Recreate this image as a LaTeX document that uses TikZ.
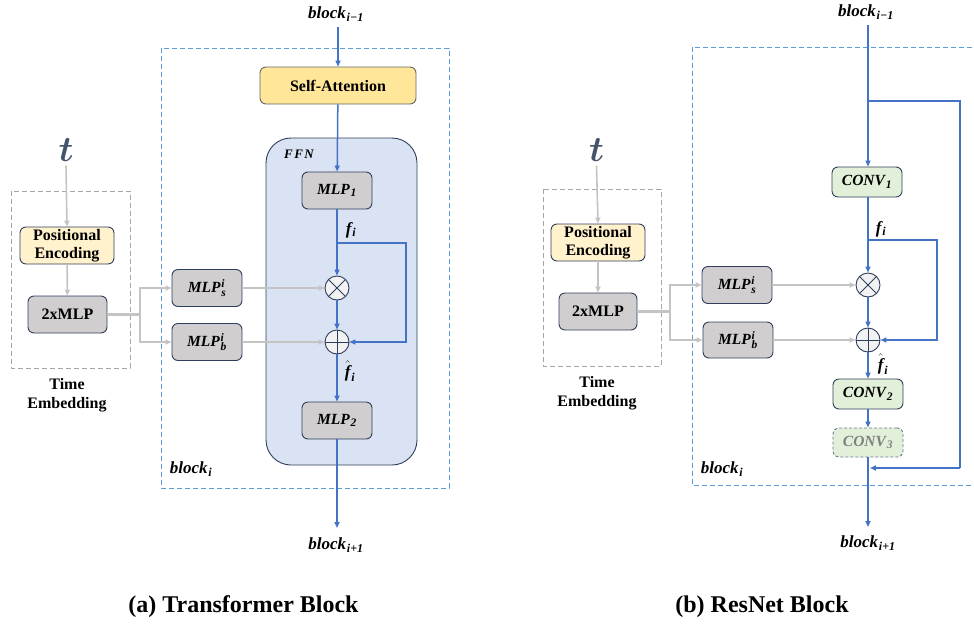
\RequirePackage{fix-cm}
\documentclass[tikz,border=0pt]{standalone}
\usepackage{fontspec}
\setmainfont{Liberation Serif}
\usetikzlibrary{arrows.meta}
\definecolor{lineblue}{HTML}{4472C4}
\definecolor{dashblue}{HTML}{5B9BD5}
\definecolor{arrowgray}{HTML}{C4C4C4}
\definecolor{dashgray}{HTML}{A6A6A6}
\definecolor{boxborder}{HTML}{2F3E5C}
\definecolor{mlpgray}{HTML}{D0CECE}
\definecolor{pefill}{HTML}{FFF2CC}
\definecolor{safill}{HTML}{FFE699}
\definecolor{ffnfill}{HTML}{DAE3F3}
\definecolor{convfill}{HTML}{E2F0D9}
\definecolor{circfill}{HTML}{F2F2F2}
\definecolor{tcol}{HTML}{44546A}
% bold-italic labels with text-size sub/superscripts
\newcommand{\subsz}{11.5}
\newcommand{\bi}[1]{\mbox{\bfseries\itshape #1}}
\newcommand{\sm}[1]{\mbox{\fontsize{\subsz}{\subsz}\selectfont\bfseries\itshape #1}}
\newcommand{\labsub}[2]{\mbox{\bi{#1}$_{\kern0.8pt\sm{#2}}$}}
\newcommand{\labss}[3]{\mbox{\bi{#1}$_{\kern0.8pt\sm{#2}}^{\kern0.8pt\sm{#3}}$}}
\tikzset{
  bl/.style={draw=lineblue, line width=1.5pt},
  blarrow/.style={bl, -{Triangle[length=6pt,width=5pt]}},
  grarrow/.style={draw=arrowgray, line width=1.6pt, -{Triangle[length=6pt,width=5pt]}},
  grthick/.style={draw=arrowgray, line width=3.2pt},
  nbox/.style={rectangle, rounded corners=6pt, draw=boxborder, line width=0.9pt, inner sep=0pt, minimum width=70pt, minimum height=37pt},
  mlpbox/.style={nbox, fill=mlpgray, font=\fontsize{15.5}{18}\selectfont\def\subsz{11.5}},
  txtbox/.style={nbox, fill=mlpgray, font=\fontsize{16}{19}\selectfont\bfseries},
  pebox/.style={nbox, fill=pefill, minimum width=94pt, align=center, font=\fontsize{16}{18}\selectfont\bfseries},
  sabox/.style={nbox, fill=safill, draw=gray!80!black, minimum width=156pt, font=\fontsize{16}{19}\selectfont\bfseries},
  convbox/.style={nbox, fill=convfill, minimum height=30pt, font=\fontsize{15.5}{18}\selectfont\def\subsz{11.5}},
  mathlab/.style={font=\fontsize{17}{20}\selectfont\def\subsz{12}, inner sep=0pt},
  txtlab/.style={font=\fontsize{16}{19}\selectfont\bfseries, align=center, inner sep=0pt},
  tlab/.style={font=\fontsize{36}{40}\selectfont, text=tcol, inner sep=0pt},
  bluedash/.style={draw=dashblue, line width=1pt, dash pattern=on 5pt off 3pt},
  graydash/.style={draw=dashgray, line width=1pt, dash pattern=on 5pt off 3pt},
  otim/.style={circle, draw=boxborder, line width=0.9pt, fill=circfill, minimum size=24pt, inner sep=0pt,
    path picture={\draw[boxborder, line width=0.9pt] (path picture bounding box.north west) -- (path picture bounding box.south east) (path picture bounding box.north east) -- (path picture bounding box.south west);}},
  oplu/.style={circle, draw=boxborder, line width=0.9pt, fill=circfill, minimum size=24pt, inner sep=0pt,
    path picture={\draw[boxborder, line width=0.9pt] (path picture bounding box.north) -- (path picture bounding box.south) (path picture bounding box.west) -- (path picture bounding box.east);}},
  caption/.style={font=\fontsize{24}{28}\selectfont\bfseries, inner sep=0pt},
}
\begin{document}
\begin{tikzpicture}[x=1pt, y=-1pt]
\useasboundingbox (0,0) rectangle (974,624);

% ================= (a) Transformer =================
\draw[graydash] (11,191) rectangle (130,368);
\node[tlab] (tL) at (66,150) {\mbox{\boldmath$t$}};
\node[pebox] (peL) at (67,245.5) {Positional\\Encoding};
\node[txtbox, minimum width=79pt] (mlp2L) at (67.5,314.5) {2xMLP};
\node[txtlab] (teL) at (67,395) {Time\\Embedding};
\node[mlpbox] (msL) at (207,288) {\labss{MLP}{s}{i}};
\node[mlpbox] (mbL) at (207,342) {\labss{MLP}{b}{i}};
\coordinate (splitL) at (140,314.5);

\draw[bluedash] (161,48) rectangle (449,488);
\node[mathlab] (bim1L) at (336,14) {\labsub{block}{i−1}};
\node[sabox] (saL) at (338,85.5) {Self-Attention};
\draw[draw=boxborder, line width=0.9pt, fill=ffnfill, rounded corners=25pt] (266,138) rectangle (417,465);
\node[mathlab, font=\fontsize{13}{15}\selectfont] (ffnL) at (299,154) {\bi{F\kern1.5pt F\kern1.5pt N}};
\node[mlpbox] (mlp1L) at (337,190.5) {\labsub{MLP}{1}};
\node[mathlab] (fiL) at (351,230) {\labsub{f}{i}};
\node[otim] (otL) at (337,288) {};
\node[oplu] (opL) at (337,342) {};
\node[mathlab] (fhL) at (350,371) {\mbox{$\hat{\bi{f}}_{\kern0.8pt\sm{i}}$}};
\node[mlpbox] (mlp2bL) at (337,420.5) {\labsub{MLP}{2}};
\coordinate (endL) at (337,528);
\node[mathlab] (bip1L) at (336,545) {\labsub{block}{i+1}};
\node[mathlab] (biL) at (191,469) {\labsub{block}{i}};
\coordinate (fbL) at (337,243);
\coordinate (fbcL) at (406,243);

\draw[grarrow] (tL.south) ++(0,4) -- (peL.north);
\draw[grarrow] (peL) -- (mlp2L);
\draw[grthick] (mlp2L.east) -- (splitL);
\draw[grarrow] (splitL) |- (msL.west);
\draw[grarrow] (splitL) |- (mbL.west);
\draw[grarrow] (msL) -- (otL);
\draw[grarrow] (mbL) -- (opL);
\draw[blarrow] (bim1L.south -| saL) ++(0,6) -- (saL.north);
\draw[blarrow] (saL) -- (mlp1L);
\draw[blarrow] (mlp1L) -- (otL);
\draw[blarrow] (otL) -- (opL);
\draw[blarrow] (fbL) -- (fbcL) |- (opL.east);
\draw[blarrow] (opL) -- (mlp2bL);
\draw[blarrow] (mlp2bL) -- (endL);

% ================= (b) ResNet =================
\draw[graydash] (543,189) rectangle (661,366);
\node[tlab] (tR) at (596.5,150) {\mbox{\boldmath$t$}};
\node[pebox] (peR) at (598,242.5) {Positional\\Encoding};
\node[txtbox, minimum width=78pt] (mlp2R) at (598,311.5) {2xMLP};
\node[txtlab] (teR) at (597,393) {Time\\Embedding};
\node[mlpbox] (msR) at (737,285) {\labss{MLP}{s}{i}};
\node[mlpbox, minimum height=36pt] (mbR) at (738,340) {\labss{MLP}{b}{i}};
\coordinate (splitR) at (670,311.5);

\begin{scope}
\clip (0,0) rectangle (974,624);
\draw[bluedash] (692,47) rectangle (990,485);
\end{scope}
\node[mathlab] (bim1R) at (866,12) {\labsub{block}{i−1}};
\coordinate (brR) at (868,101);
\coordinate (brcR) at (960,101);
\coordinate (retR) at (870,468);
\node[convbox] (conv1R) at (867,182) {\labsub{CONV}{1}};
\node[mathlab] (fiR) at (881,229) {\labsub{f}{i}};
\coordinate (fbR) at (868,240);
\coordinate (fbcR) at (937,240);
\node[otim] (otR) at (868,285) {};
\node[oplu] (opR) at (868,340) {};
\node[mathlab] (fhR) at (883,364) {\mbox{$\hat{\bi{f}}_{\kern0.8pt\sm{i}}$}};
\node[convbox] (conv2R) at (868,394) {\labsub{CONV}{2}};
\node[convbox, draw=boxborder!70, dash pattern=on 3pt off 2pt, minimum height=29pt, text=gray] (conv3R) at (868,442.5) {\labsub{CONV}{3}};
\coordinate (endR) at (868,527);
\node[mathlab] (bip1R) at (868,543) {\labsub{block}{i+1}};
\node[mathlab] (biR) at (722,469) {\labsub{block}{i}};

\draw[grarrow] (tR.south) ++(0,4) -- (peR.north);
\draw[grarrow] (peR) -- (mlp2R);
\draw[grthick] (mlp2R.east) -- (splitR);
\draw[grarrow] (splitR) |- (msR.west);
\draw[grarrow] (splitR) |- (mbR.west);
\draw[grarrow] (msR) -- (otR);
\draw[grarrow] (mbR) -- (opR);
\draw[blarrow] (bim1R.south -| brR) ++(0,6) -- (conv1R.north -| brR);
\draw[bl] (brR) -- (brcR) -- (brcR |- retR);
\draw[blarrow] (brcR |- retR) -- (retR);
\draw[blarrow] (conv1R.south -| otR) -- (otR);
\draw[blarrow] (otR) -- (opR);
\draw[blarrow] (fbR) -- (fbcR) |- (opR.east);
\draw[blarrow] (opR) -- (conv2R);
\draw[blarrow] (conv2R) -- (conv3R);
\draw[blarrow] (conv3R) -- (endR);

\node[caption] (capA) at (243.5,607) {(a) Transformer Block};
\node[caption] (capB) at (762,607) {(b) ResNet Block};
\end{tikzpicture}
\end{document}
